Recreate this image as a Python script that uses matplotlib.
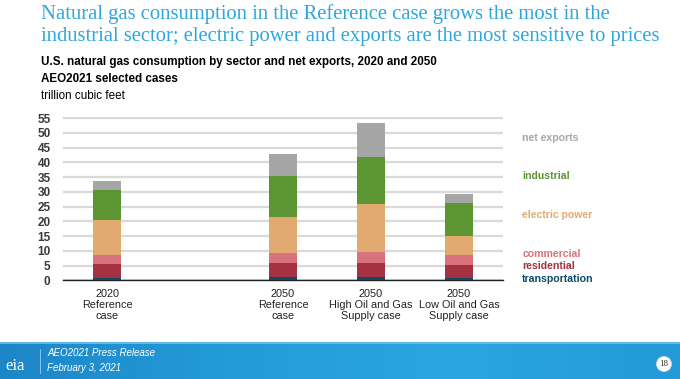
import numpy as np
import matplotlib
matplotlib.use("Agg")
import matplotlib.pyplot as plt
from matplotlib.patches import Ellipse
from matplotlib.colors import LinearSegmentedColormap

# ---------- data (trillion cubic feet) ----------
cases = ["2020\nReference\ncase", "2050\nReference\ncase",
         "2050\nHigh Oil and Gas\nSupply case", "2050\nLow Oil and Gas\nSupply case"]
case_pos = [0, 2, 3, 4]

sectors = ["transportation", "residential", "commercial", "electric power", "industrial", "net exports"]
transportation = [0.9, 1.2, 1.25, 0.9]
residential    = [4.6, 4.6, 4.6, 4.4]
commercial     = [3.2, 3.5, 3.7, 3.4]
electric_power = [11.9, 12.3, 16.4, 6.2]
industrial     = [10.1, 13.9, 15.9, 11.4]
net_exports    = [2.9, 7.4, 11.5, 3.0]

colors = ["#0d4a69", "#a3313f", "#d8737c", "#e2a971", "#5b9632", "#a6a6a6"]
legend_y = [0.45, 4.8, 9.0, 22.3, 35.3, 48.3]

W, H = 680, 379
fig = plt.figure(figsize=(W / 100, H / 100), dpi=100)

# ---------- headline ----------
title_blue = "#2ea6df"
fig.text(41 / W, 1 - 14 / H, "Natural gas consumption in the Reference case grows the most in the",
         color=title_blue, fontsize=14.9, family="Liberation Serif", va="center", ha="left")
fig.text(41 / W, 1 - 37 / H, "industrial sector; electric power and exports are the most sensitive to prices",
         color=title_blue, fontsize=14.9, family="Liberation Serif", va="center", ha="left")
fig.text(41 / W, 1 - 62 / H, "U.S. natural gas consumption by sector and net exports, 2020 and 2050",
         color="black", fontsize=8.4, fontweight="bold", family="Liberation Sans", va="center")
fig.text(41 / W, 1 - 79 / H, "AEO2021 selected cases",
         color="black", fontsize=8.4, fontweight="bold", family="Liberation Sans", va="center")
fig.text(41 / W, 1 - 96 / H, "trillion cubic feet",
         color="black", fontsize=8.4, family="Liberation Sans", va="center")

# ---------- chart ----------
px_per_unit = 2.95
y0 = 280.3
ytop = 55.5
ax = fig.add_axes([63 / W, 1 - y0 / H, 440 / W, ytop * px_per_unit / H])

series = [transportation, residential, commercial, electric_power, industrial, net_exports]
bottom = np.zeros(len(cases))
for vals, c in zip(series, colors):
    ax.bar(case_pos, vals, bottom=bottom, width=0.31, color=c, edgecolor="none", zorder=3)
    bottom += np.array(vals)

ax.set_xlim(-0.5, 4.5)
ax.set_ylim(0, ytop)
ax.set_yticks(range(0, 56, 5))
ax.yaxis.grid(True, color="#d9d9d9", linewidth=1.6, zorder=0)
ax.set_axisbelow(True)
for s in ["top", "right", "left"]:
    ax.spines[s].set_visible(False)
ax.spines["bottom"].set_color("#222222")
ax.spines["bottom"].set_linewidth(1.0)
ax.tick_params(axis="y", length=0, pad=9, labelsize=8.5, labelcolor="#3a3a3a")
for lab in ax.get_yticklabels():
    lab.set_fontweight("bold")
    lab.set_family("Liberation Sans")
ax.set_xticks(case_pos)
ax.set_xticklabels(cases, fontsize=7.8, color="#222222", family="Liberation Sans", linespacing=1.15)
ax.tick_params(axis="x", length=0, pad=6)

for name, c, yy in zip(sectors, colors, legend_y):
    ax.text(4.72, yy, name, color=c, fontsize=7.6, fontweight="bold",
            family="Liberation Sans", va="center", ha="left", clip_on=False)

# ---------- footer band ----------
band_h = 37
fax = fig.add_axes([0, 0, 1, band_h / H])
grad = np.linspace(0, 1, 256)[None, :]
cmap = LinearSegmentedColormap.from_list("band", ["#1c86c8", "#249bd9", "#2aa6e2", "#249ad8"])
fax.imshow(grad, aspect="auto", cmap=cmap, extent=[0, 1, 0, 1])
fax.axhline(0.985, color="#6cc3ee", linewidth=1.2)
fax.plot([40 / W, 40 / W], [0.15, 0.82], color="#8fd0f2", linewidth=0.6)
fax.text(5 / W, 0.36, "eia", color="white", fontsize=12, family="Liberation Serif", va="center")
fax.text(47 / W, 0.7, "AEO2021 Press Release", color="white", fontsize=7, style="italic",
         family="Liberation Sans", va="center")
fax.text(47 / W, 0.3, "February 3, 2021", color="white", fontsize=7, style="italic",
         family="Liberation Sans", va="center")
fax.add_patch(Ellipse((664 / W, 15 / band_h), 15 / W, 15 / band_h,
                      facecolor="white", edgecolor="#dddddd", linewidth=0.5))
fax.text(664 / W, 15 / band_h, "18", color="#333333", fontsize=6.5, family="Liberation Serif",
         ha="center", va="center")
fax.set_xlim(0, 1)
fax.set_ylim(0, 1)
fax.axis("off")

fig.savefig("out.png", dpi=100)
